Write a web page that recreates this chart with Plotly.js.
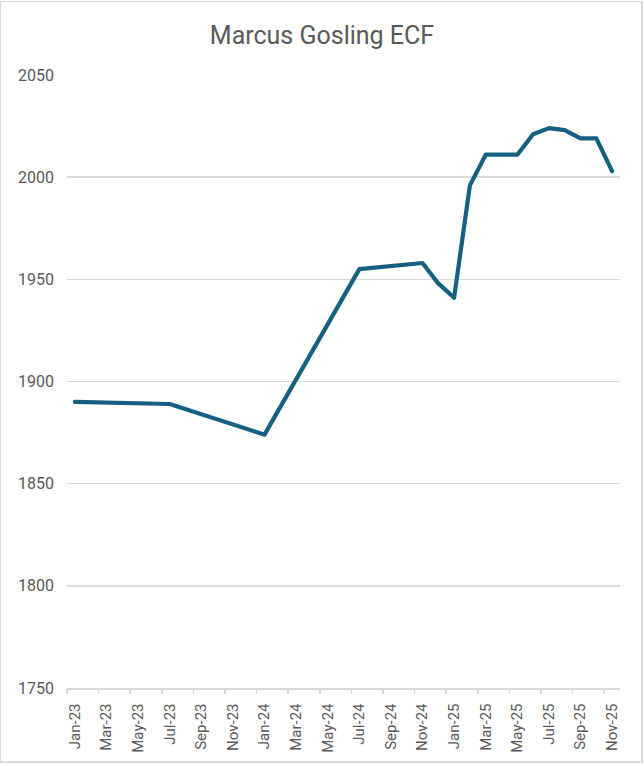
<!DOCTYPE html>
<html>
<head>
<meta charset="utf-8">
<script src="https://cdn.plot.ly/plotly-3.0.1.min.js"></script>
<style>
  html, body { margin: 0; padding: 0; background: #ffffff; }
  #frame { position: absolute; left: 0; top: 1px; width: 643px; height: 762px; box-sizing: border-box; border: 2px solid #d9d9d9; border-top-width: 1.5px; border-left-width: 1.5px; pointer-events: none; z-index: 5; }
  #chart { position: absolute; left: 0; top: 0; width: 644px; height: 766px; }
  .js-line { stroke-linejoin: round !important; stroke-linecap: round !important; }
</style>
</head>
<body>
<div id="chart"></div>
<div id="frame"></div>
<script>
// Month categories on the axis (Excel date axis, monthly base unit)
const months = [
  "Jan-23","Feb-23","Mar-23","Apr-23","May-23","Jun-23","Jul-23","Aug-23","Sep-23","Oct-23","Nov-23","Dec-23",
  "Jan-24","Feb-24","Mar-24","Apr-24","May-24","Jun-24","Jul-24","Aug-24","Sep-24","Oct-24","Nov-24","Dec-24",
  "Jan-25","Feb-25","Mar-25","Apr-25","May-25","Jun-25","Jul-25","Aug-25","Sep-25","Oct-25","Nov-25"
];

// Observation months and ECF values
const obsMonths = [
  "Jan-23","Jul-23","Jan-24","Jul-24","Nov-24","Dec-24","Jan-25","Feb-25","Mar-25",
  "Apr-25","May-25","Jun-25","Jul-25","Aug-25","Sep-25","Oct-25","Nov-25"
];
const ecf = [
  1890, 1889, 1874, 1955, 1958, 1948, 1941, 1996, 2011,
  2011, 2011, 2021, 2024, 2023, 2019, 2019, 2003
];

const yTicks = [1750, 1800, 1850, 1900, 1950, 2000, 2050];

const xIdx = obsMonths.map(m => months.indexOf(m));
const labelIdx = months.map((m, i) => i).filter(i => i % 2 === 0);
const labelText = labelIdx.map(i => months[i]);
const boundaryIdx = labelIdx.map(i => i - 0.5);

const FONT = "Roboto, 'Open Sans', sans-serif";
const GREY = "#595959";
const GRID = "#d9d9d9";
const xr = [-0.5, months.length - 0.5];

const data = [
  {
    type: "scatter", mode: "lines",
    x: xIdx, y: ecf,
    line: { color: "#156082", width: 4.2 },
    hoverinfo: "skip", showlegend: false
  },
  {
    type: "scatter", mode: "lines",
    x: [], y: [],
    xaxis: "x2", yaxis: "y",
    hoverinfo: "skip", showlegend: false
  }
];

const layout = {
  width: 644, height: 766,
  margin: { l: 67, r: 24, t: 75, b: 78 },
  paper_bgcolor: "#ffffff", plot_bgcolor: "#ffffff",
  font: { family: FONT, color: GREY, size: 15 },
  title: {
    text: "Marcus Gosling ECF",
    font: { family: FONT, size: 25, color: GREY },
    x: 0.5, xref: "container", xanchor: "center",
    y: 1 - 35 / 766, yref: "container", yanchor: "middle"
  },
  xaxis: {
    type: "linear", range: xr, fixedrange: true,
    tickmode: "array", tickvals: labelIdx, ticktext: labelText,
    tickangle: -90, ticks: "", ticklabelstandoff: 8,
    tickfont: { family: FONT, size: 15, color: GREY },
    showgrid: false, zeroline: false,
    showline: true, linecolor: GRID, linewidth: 1.5
  },
  xaxis2: {
    type: "linear", range: xr, overlaying: "x", matches: "x", anchor: "y", side: "bottom",
    tickmode: "array", tickvals: boundaryIdx,
    ticks: "outside", ticklen: 5, tickwidth: 1.5, tickcolor: GRID,
    showticklabels: false, showgrid: false, zeroline: false, showline: false
  },
  yaxis: {
    range: [1750, 2050], fixedrange: true,
    tickmode: "array", tickvals: yTicks,
    ticks: "", ticklabelstandoff: 12,
    tickfont: { family: FONT, size: 16, color: GREY },
    showgrid: true, gridcolor: GRID, gridwidth: 1.5,
    zeroline: false, showline: false
  }
};

Plotly.newPlot("chart", data, layout, { staticPlot: true, displayModeBar: false });
</script>
</body>
</html>
